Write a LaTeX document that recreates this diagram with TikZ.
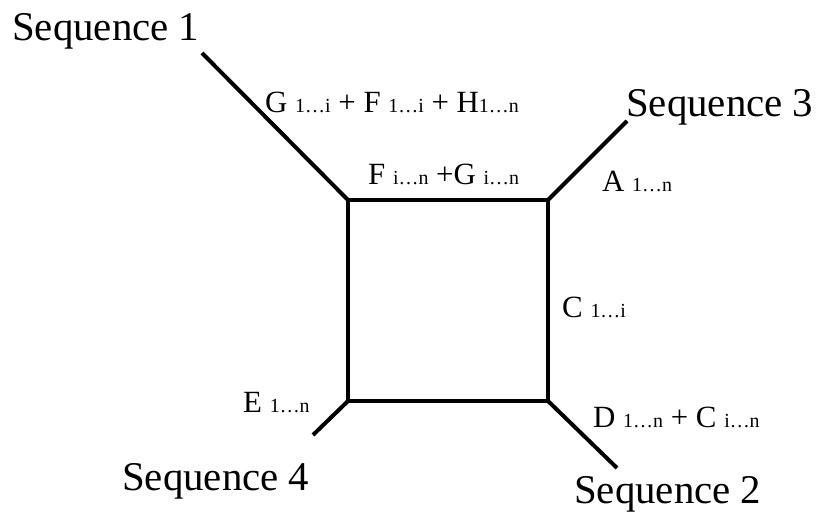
\documentclass[tikz,border=0pt]{standalone}
\usepackage{fontspec}
\setmainfont{Liberation Serif}
\newcommand\idx[1]{{\fontsize{20}{22}\selectfont #1}}
\begin{document}
\begin{tikzpicture}[x=1bp,y=-1bp,
  edge/.style={line width=4bp, line cap=butt, line join=miter},
  seqlabel/.style={anchor=base west, inner sep=0pt, font=\fontsize{41}{45}\selectfont},
  seglabel/.style={anchor=base west, inner sep=0pt, font=\fontsize{31}{35}\selectfont}]
\useasboundingbox (0,0) rectangle (819,513);

% corners of the central square
\coordinate (nw) at (348,200);
\coordinate (ne) at (548,200);
\coordinate (se) at (548,401);
\coordinate (sw) at (348,401);

% free ends of the four branches
\coordinate (s1) at (202,53);
\coordinate (s3) at (627,121);
\coordinate (s2) at (617,468);
\coordinate (s4) at (313,435);

\draw[edge] (nw) -- (ne) -- (se) -- (sw) -- cycle;
\draw[edge] (nw) -- (s1);
\draw[edge] (ne) -- (s3);
\draw[edge] (se) -- (s2);
\draw[edge] (sw) -- (s4);

% sequence names
\node[seqlabel] (seq1) at (12,41) {Sequence 1};
\node[seqlabel] (seq3) at (626,117) {Sequence 3};
\node[seqlabel] (seq4) at (122,490) {Sequence 4};
\node[seqlabel] (seq2) at (574,503) {Sequence 2};

% branch labels
\node[seglabel] (lg) at (265,113) {G \idx{1…i} + F \idx{1…i} + H\idx{1…n}};
\node[seglabel] (lf) at (368,185) {F \idx{i…n} +G \idx{i…n}};
\node[seglabel] (la) at (602,192) {A \idx{1…n}};
\node[seglabel] (lc) at (562,318) {C \idx{1…i}};
\node[seglabel] (le) at (243,412) {E \idx{1…n}};
\node[seglabel] (ld) at (593,427) {D \idx{1…n} + C \idx{i…n}};
\end{tikzpicture}
\end{document}
